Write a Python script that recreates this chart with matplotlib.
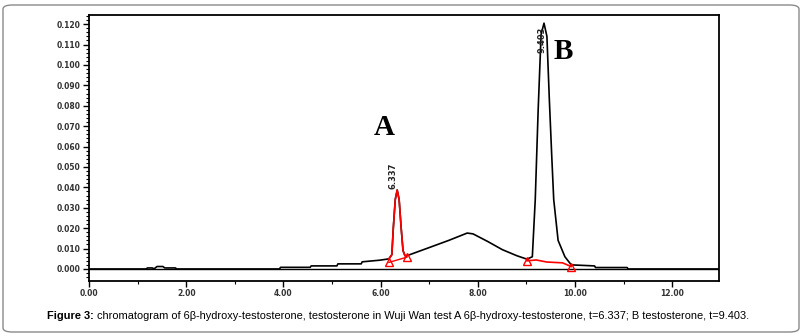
import matplotlib
matplotlib.use("Agg")
import matplotlib.pyplot as plt
import numpy as np
from matplotlib.patches import FancyBboxPatch
from matplotlib.ticker import MultipleLocator, FormatStrFormatter

# ---- data ----
time_min = [0.00, 1.18, 1.20, 1.30, 1.34, 1.40, 1.52, 1.56, 1.78, 1.80, 3.92, 3.94,
            4.55, 4.57, 5.10, 5.12, 5.60, 5.62, 5.98, 6.10, 6.17, 6.23, 6.26, 6.30,
            6.34, 6.38, 6.42, 6.46, 6.50, 6.54, 7.00, 7.40, 7.78, 7.90, 8.20, 8.50,
            8.80, 9.01, 9.12, 9.18, 9.24, 9.30, 9.36, 9.42, 9.47, 9.52, 9.56, 9.65,
            9.79, 9.92, 10.40, 10.42, 11.07, 11.09, 12.96]
signal = [0.0000, 0.0000, 0.0005, 0.0005, 0.0001, 0.0012, 0.0012, 0.0005, 0.0005, 0.0000,
          0.0000, 0.0008, 0.0008, 0.0015, 0.0015, 0.0025, 0.0025, 0.0035, 0.0043, 0.0047,
          0.0050, 0.0070, 0.0200, 0.0340, 0.0387, 0.0340, 0.0206, 0.0090, 0.0065, 0.0065,
          0.0105, 0.0140, 0.0176, 0.0172, 0.0135, 0.0095, 0.0065, 0.0048, 0.0060, 0.0340,
          0.0780, 0.1150, 0.1205, 0.1140, 0.0830, 0.0550, 0.0340, 0.0140, 0.0060, 0.0020,
          0.0015, 0.0007, 0.0007, 0.0000, 0.0000]

peakA_window = (6.17, 6.54)
baseA_t = [6.17, 6.54]
baseA_v = [0.0032, 0.0058]
baseB_t = [9.01, 9.20, 9.42, 9.74, 9.92]
baseB_v = [0.0040, 0.0044, 0.0034, 0.0030, 0.0012]

peak_labels = ["6.337", "9.403"]
peak_label_t = [6.25, 9.33]
peak_label_v = [0.0455, 0.1125]
letters = ["A", "B"]
letter_t = [6.08, 9.76]
letter_v = [0.0695, 0.1065]

y_ticks = [0.000, 0.010, 0.020, 0.030, 0.040, 0.050, 0.060, 0.070, 0.080, 0.090, 0.100, 0.110, 0.120]
x_ticks = [0.00, 2.00, 4.00, 6.00, 8.00, 10.00, 12.00]

caption_bold = "Figure 3:"
caption_rest = (" chromatogram of 6β-hydroxy-testosterone, testosterone in Wuji Wan test "
                "A 6β-hydroxy-testosterone, t=6.337; B testosterone, t=9.403.")

# ---- figure ----
W, H = 804, 336
fig = plt.figure(figsize=(W / 100, H / 100), dpi=100)
fig.patch.set_facecolor("white")

border = FancyBboxPatch((3 / W, 4 / H), 796 / W, 327 / H,
                        boxstyle="round,pad=0,rounding_size=0.012",
                        transform=fig.transFigure, fill=False,
                        edgecolor="#8a8a8a", linewidth=1.0)
fig.patches.append(border)

ax = fig.add_axes([89 / W, 1 - 281 / H, (719 - 89) / W, (281 - 15) / H])
t = np.array(time_min)
s = np.array(signal)
ax.plot(t, s, color="black", lw=1.2, zorder=3)
m = (t >= peakA_window[0]) & (t <= peakA_window[1])
ax.plot(t[m], s[m], color="red", lw=1.2, zorder=4)
ax.plot(baseA_t, baseA_v, color="red", lw=1.0, zorder=4)
ax.plot(baseB_t, baseB_v, color="red", lw=1.2, zorder=4)
ax.plot([baseA_t[0], baseA_t[-1], baseB_t[0], baseB_t[-1]],
        [baseA_v[0], baseA_v[-1], baseB_v[0], baseB_v[-1]],
        ls="none", marker="^", ms=6, mfc="none", mec="red", mew=1.0, zorder=5)

for lab, lt, lv in zip(peak_labels, peak_label_t, peak_label_v):
    ax.text(lt, lv, lab, rotation=90, ha="center", va="center", fontsize=6,
            fontweight="bold", family="DejaVu Sans", color="#222222", zorder=6)
for lab, lt, lv in zip(letters, letter_t, letter_v):
    ax.text(lt, lv, lab, ha="center", va="center", fontsize=21, fontweight="bold",
            family="Liberation Serif", color="black", zorder=6)

ax.set_xlim(0, 12.96)
ax.set_ylim(-0.0059, 0.1245)
ax.set_xticks(x_ticks)
ax.set_yticks(y_ticks)
ax.xaxis.set_minor_locator(MultipleLocator(1.0))
ax.yaxis.set_minor_locator(MultipleLocator(0.002))
ax.xaxis.set_major_formatter(FormatStrFormatter("%.2f"))
ax.yaxis.set_major_formatter(FormatStrFormatter("%.3f"))
for lbl in ax.get_xticklabels() + ax.get_yticklabels():
    lbl.set_fontsize(5.5)
    lbl.set_fontweight("bold")
    lbl.set_color("#333333")
ax.tick_params(which="major", direction="out", length=4, width=1.0, pad=2)
ax.tick_params(which="minor", direction="out", length=2.5, width=0.8)
for sp in ax.spines.values():
    sp.set_linewidth(1.3)
    sp.set_color("black")
ax.axhline(0, color="black", lw=1.0, zorder=2)

# caption
fam = ["Liberation Sans Narrow", "Liberation Sans", "DejaVu Sans"]
t1 = fig.text(47 / W, 1 - 319 / H, caption_bold, fontsize=7.9, fontweight="bold",
              family=fam, ha="left", va="baseline")
fig.canvas.draw()
bb = t1.get_window_extent()
fig.text(bb.x1 / W, 1 - 319 / H, caption_rest, fontsize=7.9, family=fam,
         ha="left", va="baseline")

fig.savefig("out.png", dpi=100)
